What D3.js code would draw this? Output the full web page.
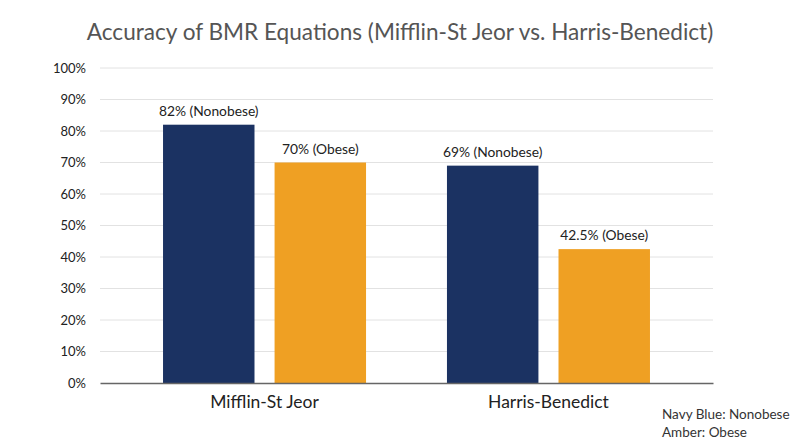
<!DOCTYPE html>
<html>
<head>
<meta charset="utf-8">
<script src="https://cdn.jsdelivr.net/npm/d3@7"></script>
<style>
  body { margin: 0; background: #fff; }
  svg { font-family: Lato, "Open Sans", sans-serif; }
</style>
</head>
<body>
<svg id="chart" width="800" height="447"></svg>
<script>
// Chart data
let equations = ["Mifflin-St Jeor", "Harris-Benedict"];
let groups = ["Nonobese", "Obese"];
let nonobese = [82, 69];
let obese = [70, 42.5];
let yTicks = [0, 10, 20, 30, 40, 50, 60, 70, 80, 90, 100];
let legendLines = ["Navy Blue: Nonobese", "Amber: Obese"];

let colors = { Nonobese: "#1b3262", Obese: "#efa023" };

let rows = equations.map((eq, i) => ({
    eq: eq,
    values: [
        { group: "Nonobese", value: nonobese[i] },
        { group: "Obese", value: obese[i] }
    ]
}));

let svg = d3.select("#chart");

// Scales
let x0 = d3.scaleBand().domain(equations).range([100, 713])
    .paddingInner(0.285).paddingOuter(0.222);
let x1 = d3.scaleBand().domain(groups).range([0, x0.bandwidth()]).paddingInner(0.18);
let y = d3.scaleLinear().domain([0, 100]).range([383, 68]);

// Title
svg.append("text")
    .attr("x", 400)
    .attr("y", 40)
    .attr("text-anchor", "middle")
    .attr("fill", "#555")
    .attr("font-size", 22.6)
    .text("Accuracy of BMR Equations (Mifflin-St Jeor vs. Harris-Benedict)");

// Gridlines
svg.append("g")
    .selectAll("line")
    .data(yTicks.filter(d => d > 0))
    .enter()
    .append("line")
    .attr("x1", 100)
    .attr("x2", 713)
    .attr("y1", d => y(d))
    .attr("y2", d => y(d))
    .attr("stroke", "#e2e2e2")
    .attr("stroke-width", 1);

// Y axis labels
let yAxis = svg.append("g")
    .attr("transform", "translate(100,0)")
    .call(d3.axisLeft(y).tickValues(yTicks).tickFormat(d => d + "%").tickSize(0).tickPadding(14));
yAxis.select(".domain").remove();
yAxis.selectAll("text")
    .attr("font-family", "Lato, sans-serif")
    .attr("font-size", 13)
    .attr("fill", "#222");

// Bars
let groupsG = svg.append("g")
    .selectAll("g")
    .data(rows)
    .enter()
    .append("g")
    .attr("transform", d => `translate(${x0(d.eq)},0)`);

groupsG.selectAll("rect")
    .data(d => d.values)
    .enter()
    .append("rect")
    .attr("x", d => x1(d.group))
    .attr("y", d => y(d.value))
    .attr("width", x1.bandwidth())
    .attr("height", d => y(0) - y(d.value))
    .attr("fill", d => colors[d.group]);

// Value labels
groupsG.selectAll("text")
    .data(d => d.values)
    .enter()
    .append("text")
    .attr("x", d => x1(d.group) + x1.bandwidth() / 2)
    .attr("y", d => y(d.value) - 9)
    .attr("text-anchor", "middle")
    .attr("font-size", 13.8)
    .attr("fill", "#222")
    .text(d => `${d.value}% (${d.group})`);

// X axis
let xAxis = svg.append("g")
    .attr("transform", "translate(0,383)")
    .call(d3.axisBottom(x0).tickSize(0).tickPadding(13));
xAxis.select(".domain")
    .attr("stroke", "#666")
    .attr("stroke-width", 1.5);
xAxis.selectAll("text")
    .attr("font-family", "Lato, sans-serif")
    .attr("font-size", 17.5)
    .attr("fill", "#222");

// Legend note
svg.append("g")
    .selectAll("text")
    .data(legendLines)
    .enter()
    .append("text")
    .attr("x", 662)
    .attr("y", (d, i) => 419 + i * 18)
    .attr("font-size", 13.5)
    .attr("fill", "#333")
    .text(d => d);
</script>
</body>
</html>
